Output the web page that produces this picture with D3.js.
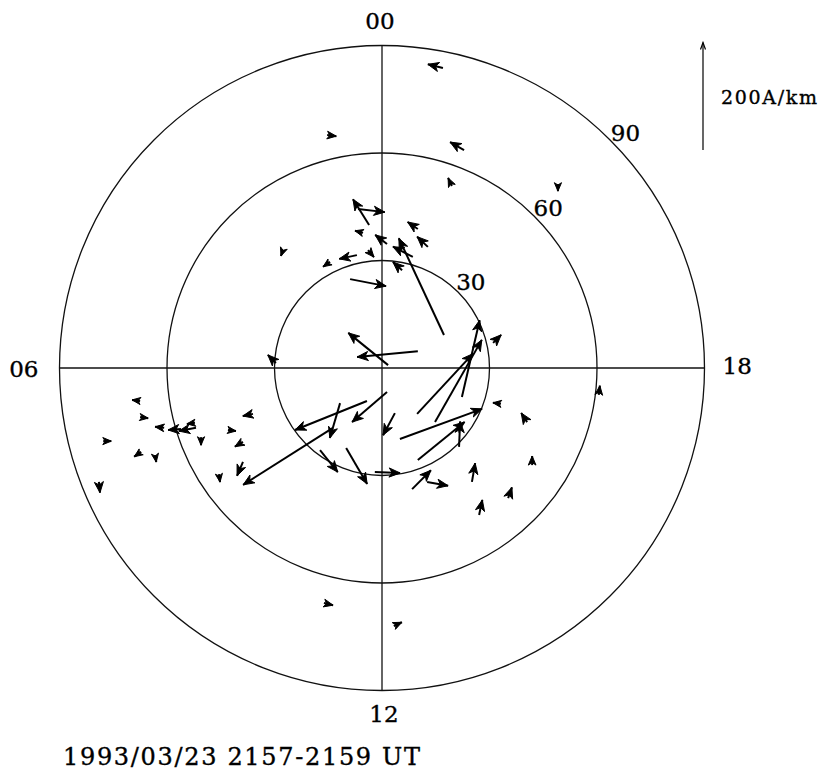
<!DOCTYPE html>
<html>
<head>
<meta charset="utf-8">
<script src="https://cdn.jsdelivr.net/npm/d3@7"></script>
<style>
body{margin:0;background:#fff;}
svg text{font-family:"DejaVu Serif","Liberation Serif",serif;fill:#000;stroke:#000;stroke-width:0.35px;}
</style>
</head>
<body>
<div id="canvas"></div>
<script>
// station positions in degrees from the pole (+x toward 18 MLT, +y toward 12 MLT)
const posX = [17.0, 22.9, 19.5, -15.3, 49.1, -3.6, -6.7, -5.3, 1.4, 10.0, 12.8, 17.3, 8.6, -7.0, -3.9, -14.5, 5.6, -8.9, 1.7, 10.0, -27.6, -29.6, 9.8, 14.8, 22.3, 31.0, -4.2, -11.7, -13.7, 1.4, 3.6, 5.0, 10.0, 21.5, -17.3, -10.0, -2.0, 8.4, 12.6, 25.1, 35.2, 27.1, 33.2, 40.5, 41.9, 60.5, -67.5, -67.5, -60.8, -56.1, -51.9, -52.2, -50.5, -77.8, -67.2, -63.3, -79.0, -36.0, -43.0, -38.8, -38.8, -45.5, -16.2, 3.3];
const posY = [-83.7, -60.8, -50.8, -65.0, -51.3, -39.9, -44.4, -37.7, -34.6, -38.8, -33.8, -9.2, -31.0, -31.5, -32.9, -29.6, -27.3, -24.8, -0.8, -4.7, -32.9, -1.4, 12.8, 15.1, 8.1, -7.0, 9.2, 9.8, 16.7, 6.7, 12.6, 19.8, 25.7, 22.0, 22.9, 22.3, 29.0, 33.8, 31.8, 31.8, 36.3, 41.0, 10.0, 15.1, 27.1, 7.5, 9.2, 13.7, 16.7, 17.0, 16.7, 15.3, 19.3, 20.4, 23.4, 24.3, 31.8, 12.8, 17.3, 20.6, 26.2, 29.6, 65.6, 72.0];
// current vectors in A/km (+x toward 18 MLT, +y toward 12 MLT)
const jX = [-28, -26, -7, 17, 0, -30, 50, -15, -22, -19, -20, -84, -37, -33, 11, -13, -17, 67, -74, -113, -4, -15, 104, 87, 33, 15, -134, -19, -167, -65, -22, 153, 87, 2, 33, 39, 47, 35, 39, 6, 7, 6, -15, -11, 0, 2, -15, 15, -17, -24, -32, -15, 0, 15, -13, 2, 2, -19, 15, -15, -11, 2, 17, 15];
const jY = [-7, -15, -15, 2, 13, -48, 6, -4, -17, -13, -19, -180, -19, 7, 13, 9, -15, 13, -60, 11, 11, -15, -112, -153, -143, -15, 54, 65, 106, 56, 41, -56, -71, -47, 41, 67, 2, -35, 7, -35, -20, -28, -2, -17, -17, -17, -2, 2, -2, 2, 6, 2, 15, 0, 9, 13, 20, 4, 2, 9, 26, 15, 4, -7];

const rings = [30, 60, 90];
const mltHours = [0, 6, 12, 18];
const mltLabels = ["00", "06", "12", "18"];
const scaleValue = 200;
const scaleLabel = "200A/km";
const title = "1993/03/23 2157-2159 UT";

const width = 831;
const height = 773;
const cx = 382, cy = 368, R = 322.5;

const svg = d3.select("#canvas").append("svg")
    .attr("width", width)
    .attr("height", height);

const x = d3.scaleLinear().domain([-90, 90]).range([cx - R, cx + R]);
const y = d3.scaleLinear().domain([-90, 90]).range([cy - R, cy + R]);
const len = d3.scaleLinear().domain([0, 200]).range([0, 107.5]);
const rad = c => x(c) - x(0);

// grid
const grid = svg.append("g").attr("fill", "none").attr("stroke", "#111").attr("stroke-width", 1.3);
grid.selectAll("circle").data(rings).enter().append("circle")
    .attr("cx", x(0)).attr("cy", y(0)).attr("r", d => rad(d));
grid.append("line").attr("x1", x(-90)).attr("x2", x(90)).attr("y1", y(0)).attr("y2", y(0));
grid.append("line").attr("x1", x(0)).attr("x2", x(0)).attr("y1", y(-90)).attr("y2", y(90));

// ring labels along the 21 MLT direction
const a = 46 * Math.PI / 180;
svg.selectAll("text.ring").data(rings).enter().append("text")
    .attr("class", "ring")
    .attr("x", d => x(0) + (rad(d) + 16) * Math.sin(a))
    .attr("y", d => y(0) - (rad(d) + 16) * Math.cos(a))
    .attr("text-anchor", "middle")
    .attr("dominant-baseline", "central")
    .attr("font-size", 23)
    .text(d => d);

// MLT labels
mltHours.forEach((h, i) => {
    const t = svg.append("text").attr("font-size", 23).text(mltLabels[i]);
    if (h === 0) t.attr("x", x(0) - 2).attr("y", y(-90) - 17).attr("text-anchor", "middle");
    if (h === 12) t.attr("x", x(0) + 2).attr("y", y(90) + 31).attr("text-anchor", "middle");
    if (h === 6) t.attr("x", x(-90) - 21).attr("y", y(0) + 9).attr("text-anchor", "end");
    if (h === 18) t.attr("x", x(90) + 18).attr("y", y(0) + 6).attr("text-anchor", "start");
});

// vectors
const data = posX.map((d, i) => {
    const x0 = x(d), y0 = y(posY[i]);
    const dx = len(jX[i]) - len(0), dy = len(jY[i]) - len(0);
    return {x0, y0, x1: x0 + dx, y1: y0 + dy};
});

function headPath(d, hlMax, hlMin, ratio) {
    const dx = d.x1 - d.x0, dy = d.y1 - d.y0;
    const L = Math.hypot(dx, dy) || 1;
    const ux = dx / L, uy = dy / L;
    const hl = Math.max(hlMin, Math.min(hlMax, L));
    const hw = hl * ratio;
    const bx = d.x1 - ux * hl, by = d.y1 - uy * hl;
    const nx = d.x1 - ux * hl * 0.72, ny = d.y1 - uy * hl * 0.72;
    return `M${d.x1},${d.y1}L${bx - uy * hw},${by + ux * hw}L${nx},${ny}L${bx + uy * hw},${by - ux * hw}Z`;
}

const vec = svg.append("g");
vec.selectAll("line").data(data).enter().append("line")
    .attr("x1", d => d.x0).attr("y1", d => d.y0)
    .attr("x2", d => d.x1).attr("y2", d => d.y1)
    .attr("stroke", "#000").attr("stroke-width", 2);
vec.selectAll("path").data(data).enter().append("path")
    .attr("d", d => headPath(d, 11, 8.5, 0.42))
    .attr("fill", "#000").attr("stroke", "#000").attr("stroke-width", 1).attr("stroke-linejoin", "miter");

// scale arrow
const sx = x(90) - 1.5, sy = 150;
const sTip = {x0: sx, y0: sy, x1: sx, y1: sy - (len(scaleValue) - len(0))};
svg.append("line")
    .attr("x1", sTip.x0).attr("y1", sTip.y0).attr("x2", sTip.x1).attr("y2", sTip.y1)
    .attr("stroke", "#000").attr("stroke-width", 1.2);
svg.append("path")
    .attr("d", `M${sTip.x1 - 2.5},${sTip.y1 + 7}L${sTip.x1},${sTip.y1}L${sTip.x1 + 2.5},${sTip.y1 + 7}`)
    .attr("fill", "none").attr("stroke", "#000").attr("stroke-width", 1.2);
svg.append("text")
    .attr("x", sx + 18).attr("y", 104)
    .attr("font-size", 19)
    .attr("textLength", 96).attr("lengthAdjust", "spacing")
    .text(scaleLabel);

svg.append("text")
    .attr("x", 63).attr("y", 765)
    .attr("font-size", 24)
    .attr("textLength", 357).attr("lengthAdjust", "spacing")
    .text(title);
</script>
</body>
</html>
